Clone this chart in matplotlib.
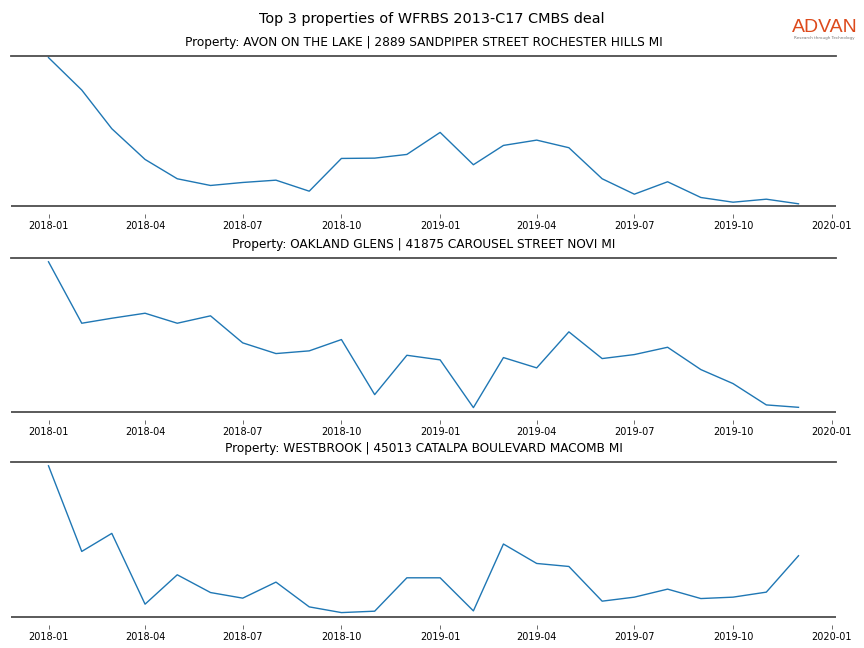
import matplotlib
matplotlib.use("Agg")
import matplotlib.pyplot as plt
import matplotlib.dates as mdates
import pandas as pd
import numpy as np

dates = pd.date_range("2018-01-01", "2019-12-01", freq="MS")

suptitle = "Top 3 properties of WFRBS 2013-C17 CMBS deal"
titles = [
    "Property: AVON ON THE LAKE | 2889 SANDPIPER STREET ROCHESTER HILLS MI",
    "Property: OAKLAND GLENS | 41875 CAROUSEL STREET NOVI MI",
    "Property: WESTBROOK | 45013 CATALPA BOULEVARD MACOMB MI",
]

avon = [1474, 1150, 764, 457, 264, 197, 227, 250, 140, 467, 470, 507,
        727, 404, 597, 650, 574, 264, 110, 234, 77, 30, 60, 14]
oakland = [1494, 880, 930, 980, 880, 954, 684, 577, 604, 717, 167, 560,
           514, 37, 537, 434, 794, 527, 567, 640, 417, 277, 64, 40]
westbrook = [1504, 650, 830, 124, 417, 240, 184, 344, 97, 40, 54, 387,
             387, 57, 724, 530, 500, 154, 194, 274, 180, 194, 244, 607]
series = [avon, oakland, westbrook]

fig = plt.figure(figsize=(8.64, 6.48), dpi=100)
W, H = 864, 648
# axes boxes in pixels (left, top, right, bottom)
boxes = [(11, 55.7, 836, 205.7), (11, 257.7, 836, 411.7), (11, 461.7, 836, 616.7)]
ymargins = [0.013, 0.028, 0.028]

spine_col = "#4d4d4d"
for (l, t, r, b), vals, title, ym in zip(boxes, series, titles, ymargins):
    ax = fig.add_axes([l / W, 1 - b / H, (r - l) / W, (b - t) / H])
    ax.plot(dates, vals, color="#1f77b4", lw=1.0)
    ax.margins(x=0.05, y=ym)
    ax.set_title(title, fontsize=8.72, pad=7)
    for s in ["left", "right"]:
        ax.spines[s].set_visible(False)
    ax.spines["top"].set_color(spine_col)
    ax.spines["top"].set_linewidth(1.3)
    ax.spines["bottom"].set_position(("outward", 6))
    ax.spines["bottom"].set_color("none")
    ax.plot([0, 1], [0, 0], transform=ax.transAxes, color=spine_col,
            lw=1.3, clip_on=False, solid_capstyle="butt")
    ax.set_yticks([])
    ax.xaxis.set_major_locator(mdates.MonthLocator(bymonth=[1, 4, 7, 10]))
    ax.xaxis.set_major_formatter(mdates.DateFormatter("%Y-%m"))
    ax.tick_params(axis="x", labelsize=7, length=3, width=0.6,
                   color="#555555", pad=2)

fig.text(431.5 / W, 1 - 19 / H, suptitle, ha="center", va="center", fontsize=10.4)

fig.text(825 / W, 1 - 27 / H, "ADVAN", ha="center", va="center",
         fontsize=14, color="#dd4a1c", family="Liberation Sans")
fig.text(824 / W, 1 - 38.5 / H, "Research through Technology", ha="center",
         va="center", fontsize=3, color="#777777")

fig.savefig("out.png", dpi=100)
